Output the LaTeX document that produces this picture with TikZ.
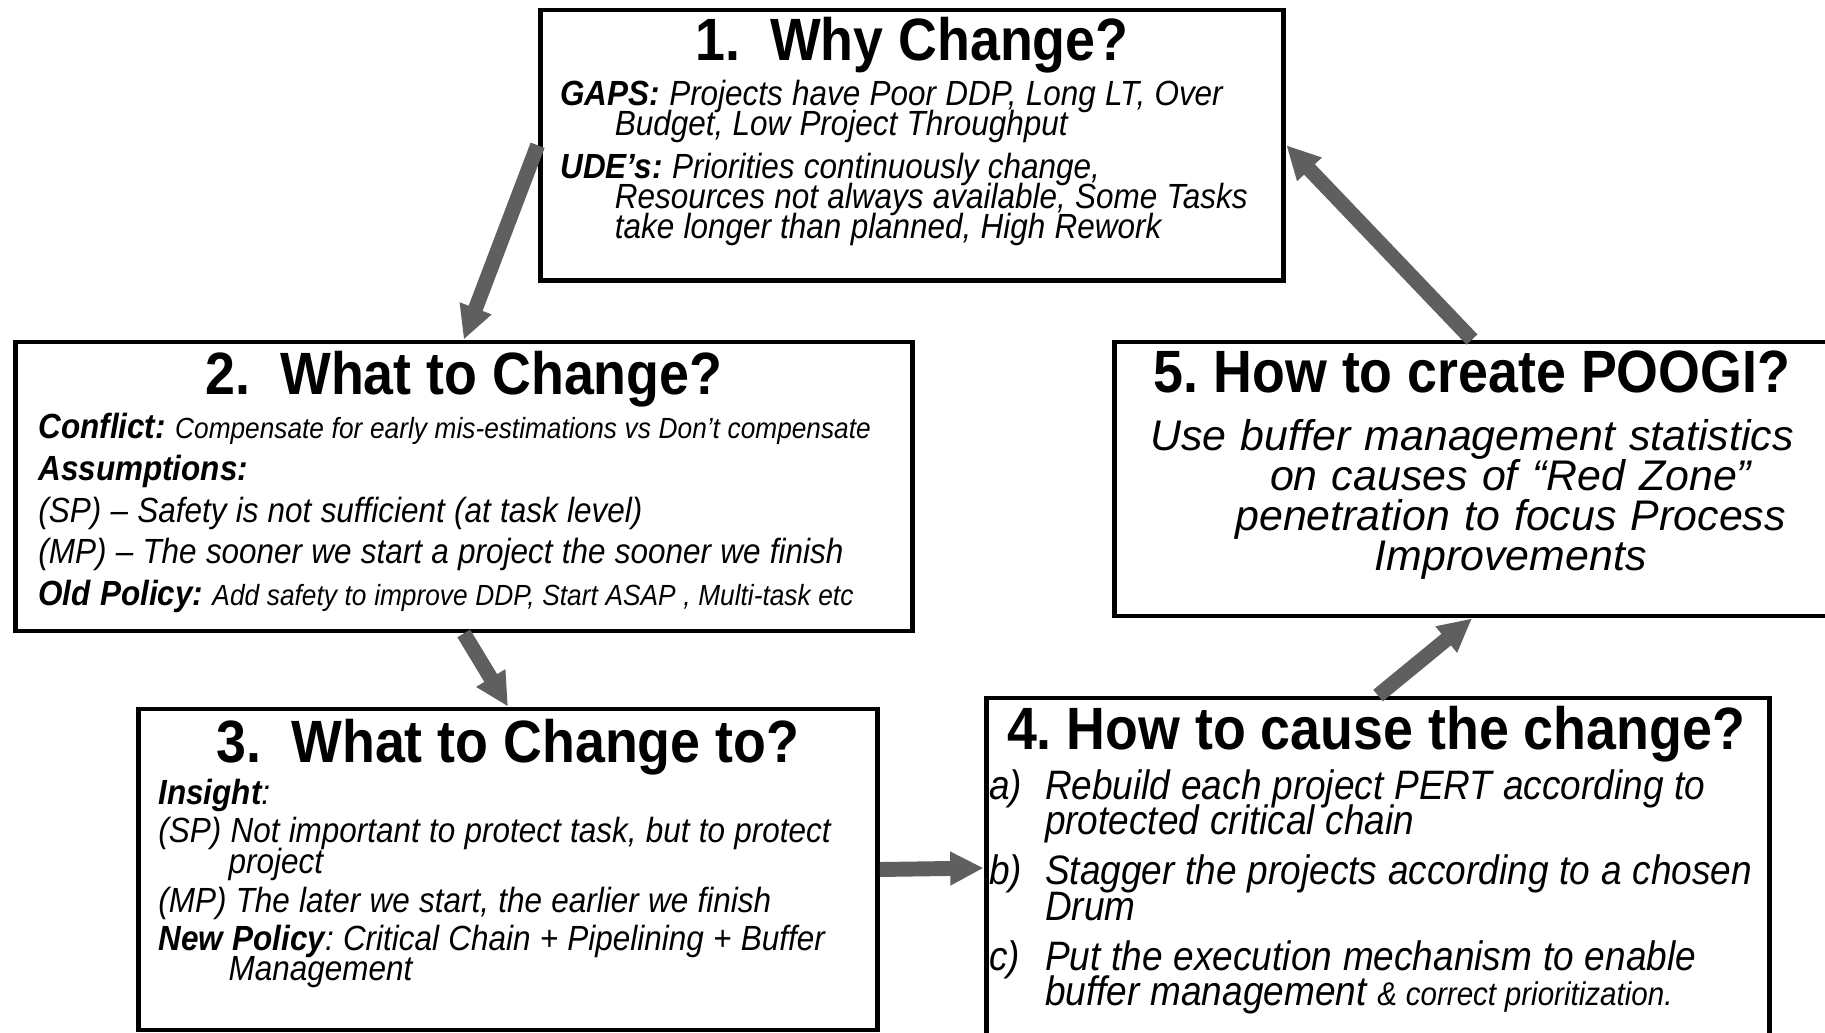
\documentclass[tikz,border=0pt]{standalone}
\usepackage{fontspec}
\setmainfont{Liberation Sans}
\newfontfamily\narrowsf[FakeStretch=0.9]{Liberation Sans}
\usetikzlibrary{arrows.meta}
\definecolor{arrowgray}{HTML}{5F5F5F}
\frenchspacing
\tikzset{
	stagebox/.style={draw, line width=2.8pt, rectangle, inner sep=0pt},
	stagetitle/.style={anchor=base, inner sep=0pt, font=\narrowsf\bfseries\fontsize{34}{36}\selectfont},
	stagetext/.style={anchor=base west, inner sep=0pt, align=flush left, text width=#1},
	flow/.style={draw=arrowgray, line width=8.5pt, -{Triangle[length=19pt,width=18pt]}}
}
\newcommand\tightlines{\lineskiplimit=-30pt\hyphenpenalty=10000}
\newcommand\bodyspaces{\spaceskip=0.265em plus 0.05em minus 0.03em}
\begin{document}
\begin{tikzpicture}[x=0.02cm, y=-0.02cm]
		\useasboundingbox (0,0) rectangle (1825,1033);
		\clip (0,0) rectangle (1825,1033);
		\fill[white] (0,0) rectangle (1825,1033);
		\node[stagebox, minimum width=14.88cm, minimum height=5.41cm] (why) at (912,145.25) {};
		\node[stagebox, minimum width=17.95cm, minimum height=5.78cm] (what) at (463.75,486.5) {};
		\node[stagebox, minimum width=14.78cm, minimum height=6.42cm] (whatto) at (508,869.5) {};
		\node[stagebox, minimum width=15.68cm, minimum height=6.8cm] (how) at (1378,868) {};
		\node[stagebox, minimum width=14.32cm, minimum height=5.48cm] (poogi) at (1472,479) {};
		\node[stagetitle] (whyT) at (912,61) {1.\ \ Why Change?};
		\node[stagetitle] (whatT) at (464,395) {2.\ \ What to Change?};
		\node[stagetitle] (whattoT) at (508,762) {3.\ \ What to Change to?};
		\node[stagetitle] (howT) at (1376,749) {4. How to cause the change?};
		\node[stagetitle] (poogiT) at (1472,393) {5. How to create POOGI?};
		\node[stagetext=17cm, font=\narrowsf\itshape\fontsize{19.9}{17}\selectfont\tightlines\bodyspaces] (whyB) at (560,106)
		{\textbf{GAPS:} Projects have Poor DDP, Long LT, Over\\
		\hspace*{31pt}Budget, Low Project Throughput\\[7.4pt]
		\textbf{UDE’s:} Priorities continuously change,\\
		\hspace*{31pt}Resources not always available, Some Tasks\\
		\hspace*{31pt}take longer than planned, High Rework};
		\node[stagetext=20cm, font=\narrowsf\itshape\fontsize{19.9}{23.7}\selectfont\tightlines\bodyspaces] (whatB) at (38,439)
		{\textbf{Conflict:} {\fontsize{16.6}{23.7}\selectfont\bodyspaces Compensate for early mis-estimations vs Don’t compensate}\\
		\textbf{Assumptions:}\\
		(SP) – Safety is not sufficient (at task level)\\
		(MP) – The sooner we start a project the sooner we finish\\
		\textbf{Old Policy:} {\fontsize{16.6}{23.7}\selectfont\bodyspaces Add safety to improve DDP, Start ASAP , Multi-task etc}};
		\node[stagetext=17cm, font=\narrowsf\itshape\fontsize{19.9}{17.4}\selectfont\tightlines\bodyspaces] (whattoB) at (158,804)
		{\textbf{Insight}:\\[4.5pt]
		(SP) Not important to protect task, but to protect\\
		\hspace*{40pt}project\\[5.1pt]
		(MP) The later we start, the earlier we finish\\[4pt]
		\textbf{New Policy}: Critical Chain + Pipelining + Buffer\\
		\hspace*{40pt}Management};
		\node[stagetext=18cm, font=\narrowsf\itshape\fontsize{23.4}{20.4}\selectfont\tightlines\bodyspaces] (howB) at (989,799)
		{\makebox[31.7pt][l]{a)}Rebuild each project PERT according to\\
		\hspace*{31.7pt}protected critical chain\\[7.9pt]
		\makebox[31.7pt][l]{b)}Stagger the projects according to a chosen\\
		\hspace*{31.7pt}Drum\\[7.9pt]
		\makebox[31.7pt][l]{c)}Put the execution mechanism to enable\\
		\hspace*{31.7pt}buffer management {\fontsize{18.7}{20.4}\selectfont\bodyspaces\& correct prioritization.}};
		\node[anchor=base, inner sep=0pt, align=center, text width=15cm, font=\itshape\fontsize{24.4}{22.7}\selectfont\tightlines] (poogiB) at (1472,451)
		{Use buffer management statistics\\
		\hspace*{44pt}on causes of “Red Zone”\\
		\hspace*{44pt}penetration to focus Process\\
		\hspace*{44pt}Improvements};
		\draw[flow] (why.west) -- (what.north);
		\draw[flow] (what.south) -- (whatto.north);
		\draw[flow] (whatto.east) -- (how.west);
		\draw[flow] (how.north) -- (poogi.south);
		\draw[flow] (poogi.north) -- (why.east);
	\end{tikzpicture}
\end{document}
